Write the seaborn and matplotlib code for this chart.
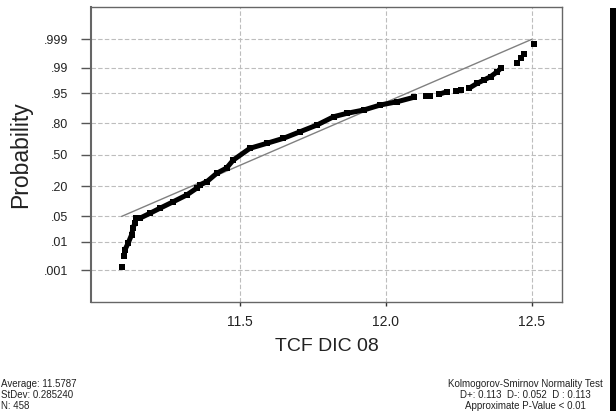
import numpy as np
import pandas as pd
import matplotlib
matplotlib.use("Agg")
import matplotlib.pyplot as plt
import seaborn as sns
from statistics import NormalDist
from matplotlib.patches import Rectangle

# ---- data ----
tcf_values = [11.094, 11.102, 11.105, 11.116, 11.128, 11.133, 11.139, 11.143, 11.156, 11.191,
              11.225, 11.271, 11.317, 11.351, 11.363, 11.386, 11.420, 11.454, 11.477, 11.534,
              11.592, 11.649, 11.706, 11.764, 11.821, 11.867, 11.924, 11.981, 12.039, 12.096,
              12.136, 12.153, 12.181, 12.210, 12.239, 12.256, 12.285, 12.313, 12.336, 12.359,
              12.382, 12.394, 12.451, 12.462, 12.472, 12.508]
probabilities = [0.0014, 0.0034, 0.0055, 0.0090, 0.0161, 0.0248, 0.0337, 0.0450, 0.0450, 0.0592,
                 0.0766, 0.1053, 0.1418, 0.1859, 0.2104, 0.2367, 0.3113, 0.3631, 0.4459, 0.5701,
                 0.6218, 0.6715, 0.7325, 0.7881, 0.8465, 0.8671, 0.8851, 0.9090, 0.9226, 0.9383,
                 0.9424, 0.9424, 0.9475, 0.9545, 0.9563, 0.9587, 0.9626, 0.9722, 0.9774, 0.9818,
                 0.9870, 0.9897, 0.9929, 0.9951, 0.9965, 0.9985]
# groups of points that merge into a continuous band
segments = [0, 1] + [2] * 28 + [3, 3, 4, 4, 5, 5] + [6] * 6 + [7, 8, 9, 10]

fit_x = [11.094, 12.500]
fit_p = [0.05, 0.999]

prob_ticks = [0.001, 0.01, 0.05, 0.20, 0.50, 0.80, 0.95, 0.99, 0.999]
prob_labels = ['.001', '.01', '.05', '.20', '.50', '.80', '.95', '.99', '.999']
x_ticks = [11.5, 12.0, 12.5]
x_labels = ['11.5', '12.0', '12.5']

left_text = ["Average: 11.5787", "StDev: 0.285240", "N: 458"]
right_text = ["Kolmogorov-Smirnov Normality Test",
              "D+: 0.113  D-: 0.052  D : 0.113",
              "Approximate P-Value < 0.01"]

# ---- build ----
nd = NormalDist()
df = pd.DataFrame({"x": tcf_values,
                   "z": [nd.inv_cdf(p) for p in probabilities],
                   "seg": segments})
fit_df = pd.DataFrame({"x": fit_x, "z": [nd.inv_cdf(p) for p in fit_p]})

sns.set_style("white")
plt.rcParams['font.family'] = ['Liberation Sans', 'DejaVu Sans']

W, H = 616, 411
fig = plt.figure(figsize=(W / 100, H / 100), dpi=100)
L, R, T, B = 91, 562, 7, 302
ax = fig.add_axes([L / W, 1 - B / H, (R - L) / W, (B - T) / H])

# grid
for t in prob_ticks:
    ax.axhline(nd.inv_cdf(t), color='#bdbdbd', lw=0.8, ls=(0, (4, 2)), zorder=0)
for t in x_ticks:
    ax.axvline(t, color='#bdbdbd', lw=0.8, ls=(0, (4, 2)), zorder=0)

sns.lineplot(data=fit_df, x="x", y="z", color='#808080', lw=1.0, ax=ax, zorder=2)
sns.lineplot(data=df, x="x", y="z", units="seg", estimator=None, sort=False,
             color='black', lw=3.6, ax=ax, zorder=3)
sns.scatterplot(data=df, x="x", y="z", color='black', marker='s', s=14,
                linewidth=0, ax=ax, zorder=4)

ax.set_xlim(10.989, 12.604)
ax.set_ylim(-3.934, 3.956)
ax.set_xticks(x_ticks)
ax.set_xticklabels(x_labels, fontsize=10, color='#222222')
ax.set_yticks([nd.inv_cdf(t) for t in prob_ticks])
ax.set_yticklabels(prob_labels, fontsize=9, color='#222222')
ax.tick_params(axis='y', direction='out', length=7, width=1, color='#555555', pad=9.5, left=True)
ax.tick_params(axis='x', direction='out', length=3, width=1, color='#333333', pad=6, bottom=True)
ax.set_xlabel("TCF DIC 08", fontsize=14, color='#222222', labelpad=7)
ax.set_ylabel("Probability", fontsize=16.5, color='#222222', labelpad=8)
for s in ax.spines.values():
    s.set_color('#666666')
    s.set_linewidth(1.0)
ax.spines['left'].set_linewidth(1.5)

for i, t in enumerate(left_text):
    fig.text(1 / W, 1 - (384 + 11 * i) / H, t, fontsize=7, ha='left', va='center', color='#222222')
for i, t in enumerate(right_text):
    fig.text(525 / W, 1 - (384 + 11 * i) / H, t, fontsize=7, ha='center', va='center', color='#222222')

fig.patches.append(Rectangle((610 / W, 0), 6 / W, 1 - 8 / H, transform=fig.transFigure,
                             facecolor='black', edgecolor='none'))

fig.savefig("out.png", dpi=100)
